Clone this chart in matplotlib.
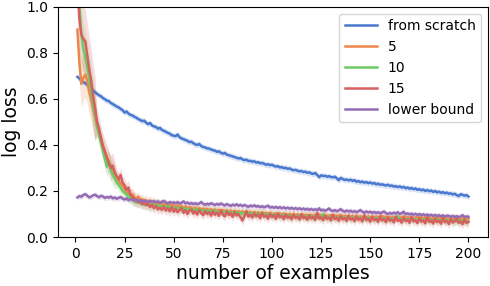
import matplotlib
matplotlib.use("Agg")
import matplotlib.pyplot as plt
import numpy as np

# x axis: number of examples
n_examples = np.arange(1, 201)

# mean log loss per number of examples
scratch = [
    0.695, 0.688, 0.680, 0.672, 0.668, 0.660, 0.652, 0.641, 0.636, 0.628,
    0.622, 0.615, 0.611, 0.603, 0.598, 0.592, 0.590, 0.582, 0.577, 0.572,
    0.566, 0.563, 0.556, 0.551, 0.540, 0.545, 0.536, 0.530, 0.528, 0.522,
    0.518, 0.512, 0.508, 0.503, 0.505, 0.496, 0.490, 0.495, 0.484, 0.480,
    0.478, 0.470, 0.474, 0.465, 0.461, 0.457, 0.452, 0.449, 0.442, 0.440,
    0.438, 0.445, 0.433, 0.428, 0.425, 0.421, 0.418, 0.412, 0.414, 0.407,
    0.402, 0.400, 0.404, 0.395, 0.391, 0.389, 0.385, 0.384, 0.380, 0.377,
    0.375, 0.370, 0.372, 0.366, 0.362, 0.365, 0.358, 0.355, 0.353, 0.350,
    0.347, 0.344, 0.341, 0.343, 0.337, 0.334, 0.336, 0.330, 0.331, 0.327,
    0.329, 0.323, 0.325, 0.320, 0.322, 0.318, 0.314, 0.316, 0.312, 0.314,
    0.309, 0.306, 0.308, 0.302, 0.304, 0.299, 0.301, 0.296, 0.298, 0.293,
    0.290, 0.292, 0.288, 0.285, 0.287, 0.282, 0.284, 0.279, 0.281, 0.276,
    0.274, 0.278, 0.270, 0.260, 0.268, 0.265, 0.266, 0.262, 0.264, 0.261,
    0.259, 0.262, 0.255, 0.247, 0.257, 0.252, 0.248, 0.250, 0.246, 0.249,
    0.244, 0.247, 0.240, 0.243, 0.238, 0.241, 0.236, 0.239, 0.234, 0.237,
    0.232, 0.235, 0.229, 0.232, 0.227, 0.229, 0.226, 0.224, 0.227, 0.222,
    0.224, 0.219, 0.221, 0.217, 0.220, 0.215, 0.218, 0.212, 0.215, 0.210,
    0.213, 0.208, 0.211, 0.205, 0.208, 0.203, 0.206, 0.200, 0.204, 0.199,
    0.202, 0.196, 0.200, 0.194, 0.197, 0.192, 0.195, 0.190, 0.193, 0.188,
    0.190, 0.185, 0.188, 0.182, 0.178, 0.186, 0.183, 0.180, 0.182, 0.176,
]
ft5 = [
    0.900, 0.760, 0.665, 0.690, 0.705, 0.680, 0.630, 0.600, 0.560, 0.520,
    0.480, 0.455, 0.420, 0.395, 0.370, 0.345, 0.330, 0.310, 0.295, 0.275,
    0.262, 0.245, 0.230, 0.222, 0.210, 0.198, 0.190, 0.182, 0.185, 0.172,
    0.168, 0.175, 0.160, 0.165, 0.155, 0.160, 0.150, 0.158, 0.147, 0.152,
    0.145, 0.150, 0.141, 0.148, 0.138, 0.144, 0.136, 0.142, 0.133, 0.139,
    0.132, 0.138, 0.128, 0.135, 0.126, 0.133, 0.124, 0.130, 0.127, 0.122,
    0.128, 0.120, 0.126, 0.119, 0.124, 0.117, 0.123, 0.116, 0.121, 0.114,
    0.120, 0.113, 0.119, 0.112, 0.118, 0.111, 0.117, 0.110, 0.115, 0.109,
    0.114, 0.108, 0.113, 0.107, 0.112, 0.106, 0.111, 0.105, 0.110, 0.104,
    0.109, 0.103, 0.108, 0.102, 0.107, 0.101, 0.106, 0.100, 0.105, 0.102,
    0.098, 0.104, 0.097, 0.103, 0.096, 0.102, 0.099, 0.095, 0.101, 0.096,
    0.100, 0.094, 0.099, 0.095, 0.093, 0.098, 0.094, 0.097, 0.092, 0.096,
    0.091, 0.097, 0.093, 0.099, 0.092, 0.095, 0.090, 0.094, 0.091, 0.096,
    0.090, 0.094, 0.089, 0.093, 0.096, 0.088, 0.092, 0.089, 0.093, 0.087,
    0.091, 0.088, 0.092, 0.086, 0.090, 0.087, 0.091, 0.085, 0.089, 0.086,
    0.090, 0.085, 0.089, 0.084, 0.088, 0.092, 0.085, 0.089, 0.084, 0.087,
    0.083, 0.088, 0.084, 0.087, 0.082, 0.086, 0.090, 0.083, 0.087, 0.082,
    0.086, 0.081, 0.085, 0.089, 0.082, 0.086, 0.081, 0.085, 0.080, 0.084,
    0.080, 0.084, 0.079, 0.083, 0.087, 0.080, 0.084, 0.079, 0.083, 0.078,
    0.082, 0.078, 0.083, 0.079, 0.081, 0.077, 0.082, 0.078, 0.083, 0.080,
]
ft10 = [
    1.150, 1.000, 0.880, 0.820, 0.780, 0.740, 0.690, 0.640, 0.580, 0.530,
    0.480, 0.445, 0.410, 0.375, 0.340, 0.305, 0.330, 0.290, 0.270, 0.255,
    0.240, 0.225, 0.215, 0.200, 0.192, 0.185, 0.175, 0.170, 0.162, 0.158,
    0.150, 0.155, 0.145, 0.150, 0.140, 0.146, 0.138, 0.143, 0.135, 0.141,
    0.133, 0.139, 0.131, 0.137, 0.128, 0.135, 0.126, 0.133, 0.124, 0.130,
    0.122, 0.128, 0.120, 0.127, 0.118, 0.125, 0.117, 0.123, 0.115, 0.121,
    0.114, 0.120, 0.112, 0.119, 0.111, 0.117, 0.110, 0.116, 0.108, 0.115,
    0.107, 0.114, 0.106, 0.112, 0.105, 0.111, 0.104, 0.110, 0.103, 0.109,
    0.102, 0.108, 0.101, 0.107, 0.100, 0.106, 0.099, 0.105, 0.098, 0.104,
    0.097, 0.103, 0.096, 0.102, 0.095, 0.101, 0.094, 0.100, 0.093, 0.099,
    0.092, 0.098, 0.091, 0.097, 0.090, 0.096, 0.089, 0.095, 0.092, 0.088,
    0.094, 0.087, 0.093, 0.089, 0.086, 0.092, 0.088, 0.091, 0.085, 0.090,
    0.086, 0.092, 0.084, 0.089, 0.085, 0.100, 0.087, 0.084, 0.089, 0.083,
    0.088, 0.084, 0.087, 0.082, 0.086, 0.083, 0.088, 0.081, 0.085, 0.082,
    0.086, 0.080, 0.085, 0.081, 0.084, 0.079, 0.083, 0.080, 0.085, 0.078,
    0.082, 0.079, 0.083, 0.077, 0.081, 0.078, 0.082, 0.076, 0.080, 0.077,
    0.081, 0.076, 0.080, 0.090, 0.077, 0.075, 0.079, 0.076, 0.080, 0.074,
    0.078, 0.075, 0.079, 0.073, 0.077, 0.074, 0.078, 0.072, 0.076, 0.073,
    0.077, 0.071, 0.075, 0.072, 0.076, 0.070, 0.074, 0.071, 0.075, 0.069,
    0.073, 0.070, 0.074, 0.068, 0.072, 0.069, 0.073, 0.067, 0.071, 0.066,
]
ft15 = [
    1.100, 0.950, 0.880, 0.860, 0.850, 0.790, 0.730, 0.680, 0.610, 0.560,
    0.500, 0.470, 0.430, 0.395, 0.370, 0.345, 0.320, 0.300, 0.310, 0.280,
    0.265, 0.250, 0.270, 0.235, 0.225, 0.205, 0.215, 0.185, 0.175, 0.165,
    0.160, 0.150, 0.158, 0.142, 0.150, 0.138, 0.145, 0.130, 0.140, 0.125,
    0.135, 0.120, 0.128, 0.118, 0.132, 0.115, 0.125, 0.112, 0.130, 0.110,
    0.122, 0.108, 0.118, 0.125, 0.105, 0.117, 0.100, 0.115, 0.120, 0.102,
    0.112, 0.098, 0.118, 0.104, 0.095, 0.113, 0.100, 0.108, 0.093, 0.112,
    0.097, 0.106, 0.092, 0.115, 0.098, 0.090, 0.110, 0.096, 0.104, 0.088,
    0.108, 0.094, 0.100, 0.086, 0.072, 0.091, 0.112, 0.089, 0.097, 0.085,
    0.103, 0.090, 0.098, 0.082, 0.105, 0.088, 0.094, 0.080, 0.100, 0.087,
    0.095, 0.079, 0.102, 0.086, 0.092, 0.078, 0.098, 0.084, 0.090, 0.077,
    0.097, 0.083, 0.089, 0.076, 0.100, 0.082, 0.088, 0.075, 0.094, 0.081,
    0.087, 0.074, 0.104, 0.080, 0.086, 0.073, 0.093, 0.079, 0.085, 0.072,
    0.096, 0.078, 0.084, 0.071, 0.090, 0.077, 0.083, 0.070, 0.092, 0.076,
    0.082, 0.069, 0.088, 0.075, 0.081, 0.068, 0.095, 0.074, 0.080, 0.067,
    0.087, 0.073, 0.079, 0.066, 0.090, 0.072, 0.078, 0.065, 0.085, 0.071,
    0.077, 0.064, 0.089, 0.070, 0.076, 0.063, 0.084, 0.069, 0.075, 0.062,
    0.088, 0.068, 0.074, 0.061, 0.082, 0.067, 0.073, 0.060, 0.086, 0.066,
    0.072, 0.059, 0.080, 0.065, 0.071, 0.058, 0.083, 0.064, 0.070, 0.057,
    0.078, 0.063, 0.069, 0.080, 0.062, 0.068, 0.056, 0.075, 0.061, 0.067,
]
lower = [
    0.172, 0.178, 0.175, 0.183, 0.186, 0.180, 0.172, 0.176, 0.181, 0.184,
    0.178, 0.173, 0.179, 0.176, 0.170, 0.174, 0.171, 0.176, 0.168, 0.172,
    0.166, 0.170, 0.174, 0.167, 0.163, 0.168, 0.160, 0.165, 0.162, 0.158,
    0.162, 0.157, 0.160, 0.154, 0.158, 0.155, 0.152, 0.157, 0.153, 0.156,
    0.151, 0.155, 0.149, 0.153, 0.157, 0.150, 0.146, 0.152, 0.148, 0.151,
    0.147, 0.152, 0.145, 0.149, 0.155, 0.146, 0.150, 0.144, 0.148, 0.143,
    0.147, 0.142, 0.146, 0.152, 0.144, 0.140, 0.145, 0.141, 0.147, 0.143,
    0.139, 0.144, 0.140, 0.146, 0.141, 0.137, 0.143, 0.139, 0.135, 0.141,
    0.137, 0.142, 0.136, 0.140, 0.134, 0.139, 0.135, 0.131, 0.137, 0.133,
    0.138, 0.132, 0.135, 0.130, 0.134, 0.129, 0.133, 0.136, 0.128, 0.131,
    0.127, 0.131, 0.126, 0.130, 0.125, 0.129, 0.124, 0.128, 0.123, 0.127,
    0.122, 0.126, 0.121, 0.125, 0.120, 0.124, 0.119, 0.123, 0.118, 0.122,
    0.117, 0.121, 0.116, 0.125, 0.115, 0.119, 0.114, 0.118, 0.124, 0.116,
    0.113, 0.117, 0.112, 0.116, 0.121, 0.114, 0.110, 0.115, 0.111, 0.114,
    0.109, 0.113, 0.108, 0.112, 0.117, 0.110, 0.106, 0.111, 0.107, 0.110,
    0.105, 0.109, 0.104, 0.108, 0.103, 0.107, 0.111, 0.104, 0.100, 0.105,
    0.101, 0.106, 0.102, 0.108, 0.100, 0.104, 0.110, 0.099, 0.103, 0.098,
    0.102, 0.097, 0.101, 0.096, 0.100, 0.095, 0.099, 0.094, 0.098, 0.093,
    0.097, 0.092, 0.096, 0.091, 0.095, 0.090, 0.094, 0.089, 0.093, 0.092,
    0.088, 0.092, 0.087, 0.091, 0.086, 0.090, 0.095, 0.087, 0.089, 0.088,
]

# half width of the shaded band, one value per block of 10 examples
band_scratch = [0.013] * 20
band_ft5 = [0.10, 0.04, 0.026, 0.022, 0.02] + [0.018] * 15
band_ft10 = [0.11, 0.045, 0.026, 0.022, 0.02] + [0.018] * 15
band_ft15 = [0.14, 0.055, 0.03, 0.024, 0.022] + [0.02] * 15
band_lower = [0.012] * 20

labels = ["from scratch", "5", "10", "15", "lower bound"]
colors = ["#4878d0", "#ee854a", "#6acc64", "#d65f5f", "#956cb4"]
series = [scratch, ft5, ft10, ft15, lower]
bands = [band_scratch, band_ft5, band_ft10, band_ft15, band_lower]

fig = plt.figure(figsize=(4.9, 2.86), dpi=100)
ax = fig.add_axes([0.118, 0.171, 0.878, 0.806])

for y, b, c, lab in zip(series, bands, colors, labels):
    y = np.array(y)
    hw = np.repeat(b, 10)
    ax.fill_between(n_examples, y - hw, y + hw, color=c, alpha=0.2, lw=0)
    ax.plot(n_examples, y, color=c, lw=1.8, label=lab)

ax.set_ylim(0, 1.0)
ax.set_xticks([0, 25, 50, 75, 100, 125, 150, 175, 200])
ax.tick_params(labelsize=10)
ax.set_xlabel("number of examples", fontsize=13.5, labelpad=2)
ax.set_ylabel("log loss", fontsize=13.5)
ax.legend(loc="upper right", fontsize=10, handlelength=2.3)

fig.savefig("out.png", dpi=100)
